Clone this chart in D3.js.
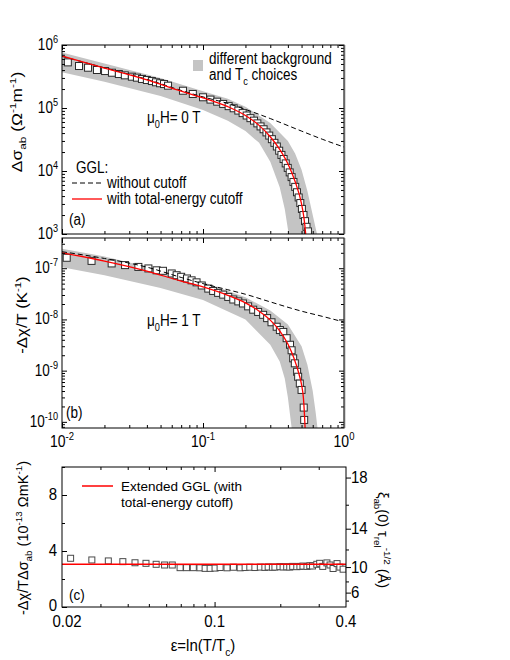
<!DOCTYPE html>
<html>
<head>
<meta charset="utf-8">
<script src="https://cdn.jsdelivr.net/npm/d3@7"></script>
<style>
body { margin: 0; background: #fff; }
text { font-family: "Liberation Sans", Arial, sans-serif; fill: #000; white-space: pre; }
</style>
</head>
<body>
<script>
// ---- panel (a): fluctuation conductivity, mu0H = 0 T ----
const epsA = [0.0110,0.0132,0.0153,0.0177,0.0202,0.0226,0.0253,0.0279,0.0313,0.0340,0.0369,0.0400,0.0434,0.0464,0.0496,0.0529,0.0565,0.0721,0.0847,0.100,
  0.113,0.126,0.139,0.152,0.165,0.178,0.191,0.204,0.217,0.230,0.243,0.256,0.269,0.282,0.295,0.308,0.321,0.334,0.347,0.360,
  0.373,0.386,0.399,0.412,0.425,0.438,0.451,0.464,0.477,0.490,0.503,0.516,0.529,0.542,0.555]
const sigA = [5.3e5,4.64e5,4.36e5,4.01e5,3.86e5,3.63e5,3.46e5,3.30e5,3.14e5,3.03e5,2.89e5,2.78e5,2.68e5,2.56e5,2.47e5,2.40e5,2.26e5,1.88e5,1.67e5,1.48e5,
  1.36e5,1.26e5,1.16e5,1.07e5,9.9e4,9.1e4,8.3e4,7.6e4,6.9e4,6.3e4,5.7e4,5.1e4,4.6e4,4.1e4,3.65e4,3.2e4,2.8e4,2.45e4,2.1e4,1.8e4,
  1.55e4,1.32e4,1.12e4,9.5e3,8.0e3,6.7e3,5.6e3,4.6e3,3.8e3,3.1e3,2.5e3,2.0e3,1.6e3,1.3e3,1.1e3]
const redEpsA = [0.01,0.02,0.04,0.07,0.1,0.15,0.2,0.25,0.3,0.35,0.4,0.45,0.5,0.52,0.535,0.545]
const redA    = [6.7e5,4.3e5,2.8e5,1.85e5,1.45e5,1.05e5,7.6e4,5.3e4,3.5e4,2.2e4,1.3e4,6.8e3,3.0e3,1.8e3,1.0e3,6e2]
const dashEpsA = [0.01,0.02,0.04,0.07,0.1,0.15,0.2,0.3,0.5,0.7,1.0]
const dashA    = [6.6e5,4.35e5,2.85e5,1.9e5,1.5e5,1.18e5,9.5e4,6.8e4,4.3e4,3.2e4,2.4e4]
const bandHiEpsA = [0.01,0.02,0.05,0.1,0.15,0.2,0.3,0.4,0.45,0.5,0.55,0.6,0.65]
const bandHiA    = [7.6e5,5.1e5,3.0e5,1.85e5,1.4e5,1.05e5,5.8e4,3.0e4,1.9e4,1.05e4,4.8e3,2.0e3,9e2]
const bandLoEpsA = [0.01,0.02,0.05,0.1,0.15,0.2,0.25,0.3,0.35,0.38,0.40,0.41]
const bandLoA    = [3.7e5,2.6e5,1.55e5,9.3e4,6.3e4,4.3e4,2.8e4,1.4e4,5.5e3,2.5e3,1.2e3,8e2]

// ---- panel (b): magnetization, mu0H = 1 T ----
const epsB = [0.0108,0.0162,0.0225,0.028,0.0348,0.041,0.0469,0.052,0.060,0.065,0.070,0.077,0.083,0.090,0.098,
  0.109,0.118,0.128,0.139,0.151,0.164,0.178,0.192,0.209,0.227,0.246,0.267,0.285,0.306,0.333,
  0.351,0.371,0.392,0.414,0.425,0.436,0.448,0.465,0.473,0.486,0.50,0.518,0.522]
const chiB = [1.6e-7,1.39e-7,1.24e-7,1.15e-7,1.06e-7,9.9e-8,9.1e-8,8.9e-8,7.9e-8,7.3e-8,6.8e-8,6.3e-8,5.8e-8,5.3e-8,4.6e-8,
  4.0e-8,3.6e-8,3.3e-8,3.05e-8,2.75e-8,2.45e-8,2.25e-8,2.05e-8,1.8e-8,1.55e-8,1.4e-8,1.23e-8,1.06e-8,8.8e-9,7.2e-9,
  6.2e-9,5.7e-9,4.3e-9,3.2e-9,2.5e-9,1.74e-9,1.39e-9,9.5e-10,7.6e-10,5.6e-10,4.2e-10,1.9e-10,1.09e-10]
const redEpsB = [0.01,0.02,0.04,0.07,0.1,0.15,0.2,0.25,0.3,0.35,0.4,0.44,0.48,0.5,0.515,0.525,0.532]
const redB    = [2.0e-7,1.38e-7,8.8e-8,5.6e-8,4.3e-8,2.95e-8,2.1e-8,1.45e-8,9.7e-9,6.0e-9,3.3e-9,1.8e-9,8.5e-10,5.3e-10,3.0e-10,1.3e-10,6e-11]
const dashEpsB = [0.01,0.02,0.04,0.07,0.1,0.15,0.2,0.3,0.5,0.7,1.0]
const dashB    = [2.1e-7,1.55e-7,1.05e-7,6.6e-8,5.0e-8,3.8e-8,3.1e-8,2.2e-8,1.45e-8,1.15e-8,8.9e-9]
const bandHiEpsB = [0.01,0.02,0.05,0.1,0.2,0.3,0.4,0.5,0.55,0.6,0.63,0.66]
const bandHiB    = [2.4e-7,1.7e-7,9.2e-8,5.4e-8,2.7e-8,1.5e-8,8.0e-9,3.0e-9,1.3e-9,4e-10,1.5e-10,5e-11]
const bandLoEpsB = [0.01,0.02,0.05,0.1,0.2,0.3,0.35,0.38,0.40,0.42,0.43]
const bandLoB    = [1.05e-7,7.3e-8,4.1e-8,2.4e-8,1.0e-8,3.2e-9,1.5e-9,7e-10,3e-10,1e-10,6e-11]

// ---- panel (c): ratio -dchi/(T dsigma) ----
const epsC = [0.0219,0.0274,0.0326,0.038,0.0432,0.0485,0.054,0.059,0.064,0.0695,0.0744,0.0799,0.0857,0.0905,0.0954,0.1005,
  0.106,0.114,0.122,0.131,0.138,0.145,0.153,0.162,0.170,0.176,0.184,0.189,0.199,0.206,0.214,0.221,
  0.228,0.238,0.246,0.254,0.265,0.273,0.281,0.294,0.303,0.313,0.327,0.338,0.349,0.364,0.375,0.388]
const ratioC = [3.48,3.36,3.29,3.24,3.16,3.12,3.05,3.0,3.0,2.81,2.81,2.81,2.8,2.76,2.76,2.78,
  2.82,2.8,2.84,2.8,2.82,2.84,2.82,2.85,2.83,2.86,2.84,2.85,2.88,2.86,2.87,2.85,
  2.9,2.88,2.9,2.92,2.9,2.95,2.93,3.05,3.12,2.9,3.15,3.0,2.75,3.1,2.85,2.7]
const redEpsC = [0.02,0.4]
const redC    = [3.05,3.05]

const SY = 1.2   // the original figure is a bit stretched vertically

svg = d3.select("body").append("svg")
    .attr("width", 510)
    .attr("height", 660)

// scales
xAB = d3.scaleLog().domain([0.01, 1]).range([62, 344])
yA = d3.scaleLog().domain([1e3, 1e6]).range([234, 45])
yB = d3.scaleLog().domain([Math.pow(10, -10.12), Math.pow(10, -6.41)]).range([428, 238])
xC = d3.scaleLog().domain([0.02, 0.4]).range([62, 346])
yC = d3.scaleLinear().domain([0, 10]).range([607, 467])
yCr = d3.scalePow().exponent(2).domain([0, 18.72]).range([607, 467])

// text with sub/superscripts; parts: "plain" or {t:"x", k:1 (sup) | -1 (sub)}
function rich(g, x, y, parts, size, anchor, rot, sy) {
    let t = g.append("text")
        .attr("transform", "translate(" + x + "," + y + ") scale(1," + (sy || SY) + ")" + (rot ? " rotate(" + rot + ")" : ""))
        .attr("text-anchor", anchor || "start")
        .style("font-size", size + "px")
    let shift = 0
    parts.forEach(p => {
        let s = typeof p === "string" ? {t: p, k: 0} : p
        let target = s.k == 1 ? -0.42 * size : s.k == -1 ? 0.3 * size : 0
        t.append("tspan")
            .attr("dy", target - shift)
            .style("font-size", (s.k ? size * 0.68 : size) + "px")
            .text(s.t)
        shift = target
    })
    return t
}

function pts(xs, ys) { return xs.map((x, i) => [x, ys[i]]) }

function clip(id, x0, y0, x1, y1) {
    svg.append("clipPath").attr("id", id).append("rect")
        .attr("x", x0).attr("y", y0).attr("width", x1 - x0).attr("height", y1 - y0)
}

// ticks on a frame (negative length = inward)
function ticks(g, axis, tr, vals, len) {
    g.append("g").attr("transform", tr)
        .call(axis.tickValues(vals).tickSize(len).tickSizeOuter(0).tickFormat(""))
        .call(a => a.select(".domain").remove())
        .selectAll("line").attr("stroke", "#000")
}

function logPanel(y, yTop, yBot, majors, id, bandHi, bandLo, dash, red, sq) {
    let g = svg.append("g")
    clip(id, 62, yTop, 344, yBot)
    let body = g.append("g").attr("clip-path", "url(#" + id + ")")
    let line = d3.line().x(d => xAB(d[0])).y(d => y(d[1])).curve(d3.curveMonotoneX)
    // gray band
    let poly = bandHi.concat(bandLo.slice().reverse())
    body.append("path")
        .attr("d", d3.line().x(d => xAB(d[0])).y(d => y(d[1]))(poly) + "Z")
        .attr("fill", "#c4c4c4")
        .attr("stroke", "none")
    body.selectAll("empty")
        .data(sq)
        .enter()
        .append("rect")
        .attr("x", d => xAB(d[0]) - 3.5)
        .attr("y", d => y(d[1]) - 3.5)
        .attr("width", 7)
        .attr("height", 7)
        .attr("fill", "#fff")
        .attr("stroke", "#2a2a2a")
        .attr("stroke-width", 1)
    body.append("path").attr("d", line(dash))
        .attr("fill", "none").attr("stroke", "#000").attr("stroke-width", 1).attr("stroke-dasharray", "5,3")
    body.append("path").attr("d", line(red))
        .attr("fill", "none").attr("stroke", "#f00").attr("stroke-width", 1.3)

    let minY = y.ticks().filter(v => majors.indexOf(v) < 0)
    let xMaj = [0.01, 0.1, 1]
    let xMin = xAB.ticks().filter(v => xMaj.indexOf(v) < 0)
    ticks(g, d3.axisLeft(y), "translate(62,0)", majors, -5)
    ticks(g, d3.axisLeft(y), "translate(62,0)", minY, -3)
    ticks(g, d3.axisRight(y), "translate(344,0)", majors, -5)
    ticks(g, d3.axisRight(y), "translate(344,0)", minY, -3)
    ticks(g, d3.axisTop(xAB), "translate(0," + yTop + ")", xMaj, -5)
    ticks(g, d3.axisTop(xAB), "translate(0," + yTop + ")", xMin, -3)
    ticks(g, d3.axisBottom(xAB), "translate(0," + yBot + ")", xMaj, -5)
    ticks(g, d3.axisBottom(xAB), "translate(0," + yBot + ")", xMin, -3)
    g.append("rect").attr("x", 62).attr("y", yTop).attr("width", 282).attr("height", yBot - yTop)
        .attr("fill", "none").attr("stroke", "#000").attr("stroke-width", 1)
    g.append("line").attr("x1", 344.5).attr("x2", 344.5).attr("y1", yTop).attr("y2", yBot)
        .attr("stroke", "#666").attr("stroke-width", 1.5)

    majors.forEach(v => {
        rich(g, 58, y(v) + 5, ["10", {t: String(Math.round(Math.log10(v))), k: 1}], 13.5, "end")
    })
    return g
}

// panel (a)
gA = logPanel(yA, 45, 234, [1e3, 1e4, 1e5, 1e6], "clipA",
    pts(bandHiEpsA, bandHiA), pts(bandLoEpsA, bandLoA), pts(dashEpsA, dashA), pts(redEpsA, redA), pts(epsA, sigA))

// panel (b)
gB = logPanel(yB, 238, 428, [1e-10, 1e-9, 1e-8, 1e-7], "clipB",
    pts(bandHiEpsB, bandHiB), pts(bandLoEpsB, bandLoB), pts(dashEpsB, dashB), pts(redEpsB, redB), pts(epsB, chiB))

// x labels under (b)
;[0.01, 0.1, 1].forEach(v => {
    rich(svg, xAB(v), 447, ["10", {t: String(Math.round(Math.log10(v))), k: 1}], 14, "middle")
})

// legend / annotations (a)
svg.append("rect").attr("x", 193).attr("y", 60).attr("width", 10).attr("height", 11).attr("fill", "#c4c4c4")
rich(svg, 209, 64, ["different background"], 13.5, "start")
rich(svg, 209, 80, ["and T", {t: "c", k: -1}, " choices"], 13.5, "start")
rich(svg, 147, 123, ["μ", {t: "0", k: -1}, "H= 0 T"], 13.5, "start")
rich(svg, 76, 173, ["GGL:"], 13.5, "start")
svg.append("line").attr("x1", 72).attr("x2", 102).attr("y1", 183).attr("y2", 183)
    .attr("stroke", "#000").attr("stroke-dasharray", "5,3")
rich(svg, 107, 188, ["without cutoff"], 13.5, "start")
svg.append("line").attr("x1", 72).attr("x2", 102).attr("y1", 199).attr("y2", 199)
    .attr("stroke", "#f00").attr("stroke-width", 1.3)
rich(svg, 107, 204, ["with total-energy cutoff"], 13.5, "start")
rich(svg, 69, 225, ["(a)"], 13.5, "start")

// annotations (b)
rich(svg, 147, 326, ["μ", {t: "0", k: -1}, "H= 1 T"], 13.5, "start")
rich(svg, 66, 418, ["(b)"], 13.5, "start")

// y labels (a), (b)
rich(svg, 22, 122, ["Δσ", {t: "ab", k: -1}, " (Ω", {t: "-1", k: 1}, "m", {t: "-1", k: 1}, ")"], 14.5, "middle", -90)
rich(svg, 27, 315, ["-Δχ/T (K", {t: "-1", k: 1}, ")"], 14, "middle", -90)

// ---- panel (c) ----
gC = svg.append("g")
clip("clipC", 62, 467, 346, 607)
bodyC = gC.append("g").attr("clip-path", "url(#clipC)")
bodyC.selectAll("empty")
    .data(pts(epsC, ratioC))
    .enter()
    .append("rect")
    .attr("x", d => xC(d[0]) - 3)
    .attr("y", d => yC(d[1]) - 3)
    .attr("width", 6)
    .attr("height", 6)
    .attr("fill", "#fff")
    .attr("stroke", "#4a4a4a")
    .attr("stroke-width", 1)
bodyC.append("path")
    .attr("d", d3.line().x(d => xC(d[0])).y(d => yC(d[1]))(pts(redEpsC, redC)))
    .attr("fill", "none").attr("stroke", "#f00").attr("stroke-width", 1.5)

xCmin = [0.03, 0.04, 0.05, 0.06, 0.07, 0.08, 0.09, 0.2, 0.3]
ticks(gC, d3.axisBottom(xC), "translate(0,607)", [0.1], -5)
ticks(gC, d3.axisBottom(xC), "translate(0,607)", xCmin, -3)
ticks(gC, d3.axisTop(xC), "translate(0,467)", [0.1], -5)
ticks(gC, d3.axisTop(xC), "translate(0,467)", xCmin, -3)
ticks(gC, d3.axisLeft(yC), "translate(62,0)", [0, 4, 8], -5)
ticks(gC, d3.axisLeft(yC), "translate(62,0)", [2, 6, 10], -3)
ticks(gC, d3.axisRight(yCr), "translate(346,0)", [6, 10, 14, 18], 5)
ticks(gC, d3.axisRight(yCr), "translate(346,0)", [4, 8, 12, 16], 3)
gC.append("rect").attr("x", 62).attr("y", 467).attr("width", 284).attr("height", 140)
    .attr("fill", "none").attr("stroke", "#000").attr("stroke-width", 1)

;[0, 4, 8].forEach(v => rich(gC, 57, yC(v) + 5 - (v == 0 ? 1 : 0), [String(v)], 15, "end", 0, 1.05))
;[6, 10, 14, 18].forEach(v => rich(gC, 351, yCr(v) + 5.5, [String(v)], 15, "start", 0, 1.05))
;[0.02, 0.1, 0.4].forEach(v => rich(gC, xC(v) + (v == 0.02 ? 5 : 0), 627, [String(v)], 15, "middle", 0, 1.05))

rich(svg, 203, 651, ["ε=ln(T/T", {t: "c", k: -1}, ")"], 15, "middle", 0, 1.05)
rich(svg, 28, 538, ["-Δχ/TΔσ", {t: "ab", k: -1}, " (10", {t: "-13", k: 1}, " ΩmK", {t: "-1", k: 1}, ")"], 14.5, "middle", -90, 1.0)
rich(svg, 378, 540, ["ξ", {t: "ab", k: -1}, "(0) τ", {t: "rel", k: -1}, {t: "-1/2", k: 1}, " (Å)"], 14.5, "middle", 90, 1.0)

// legend (c)
svg.append("line").attr("x1", 82).attr("x2", 113).attr("y1", 486).attr("y2", 486)
    .attr("stroke", "#f00").attr("stroke-width", 1.5)
rich(svg, 121, 491, ["Extended GGL (with"], 13.5, "start", 0, 1.0)
rich(svg, 121, 507, ["total-energy cutoff)"], 13.5, "start", 0, 1.0)
rich(svg, 69, 600, ["(c)"], 13.5, "start", 0, 1.05)
</script>
</body>
</html>
